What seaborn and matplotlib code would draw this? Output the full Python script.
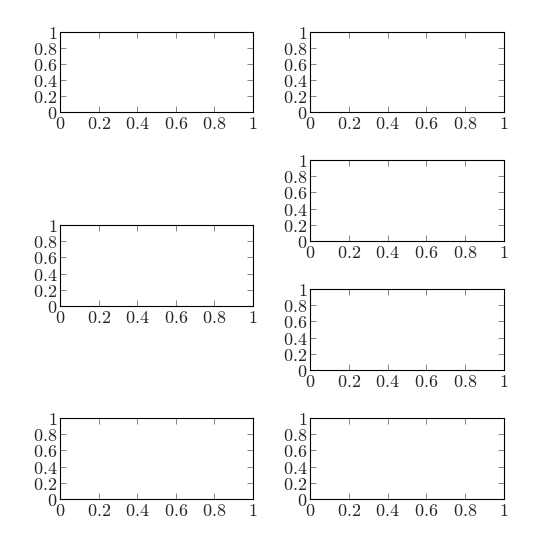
import matplotlib
matplotlib.use("Agg")
import matplotlib.pyplot as plt
import seaborn as sns

sns.set_style("ticks")
plt.rcParams['mathtext.fontset'] = 'cm'
plt.rcParams['font.family'] = ['DejaVu Serif']

tick_values = [0, 0.2, 0.4, 0.6, 0.8, 1]
tick_labels = [r'$0$', r'$0.2$', r'$0.4$', r'$0.6$', r'$0.8$', r'$1$']

W, H = 540, 542
# (left, top, right, bottom) in pixels
boxes = [
    (60, 32, 253, 112),
    (310, 32, 504, 112),
    (310, 160, 504, 241),
    (60, 225, 253, 306),
    (310, 289, 504, 370),
    (60, 418, 253, 499),
    (310, 418, 504, 499),
]

fig = plt.figure(figsize=(W / 100, H / 100), dpi=100)
for l, t, r, b in boxes:
    ax = fig.add_axes([l / W, 1 - b / H, (r - l) / W, (b - t) / H])
    sns.despine(ax=ax, top=False, right=False)
    ax.set_xlim(0, 1)
    ax.set_ylim(0, 1)
    ax.set_xticks(tick_values)
    ax.set_yticks(tick_values)
    ax.set_xticklabels(tick_labels)
    ax.set_yticklabels(tick_labels)
    ax.tick_params(direction='in', top=True, right=True, length=4,
                   width=0.5, color='#555555', labelsize=13, pad=2)
    for s in ax.spines.values():
        s.set_linewidth(0.8)
        s.set_color('black')

fig.savefig('out.png', dpi=100)
